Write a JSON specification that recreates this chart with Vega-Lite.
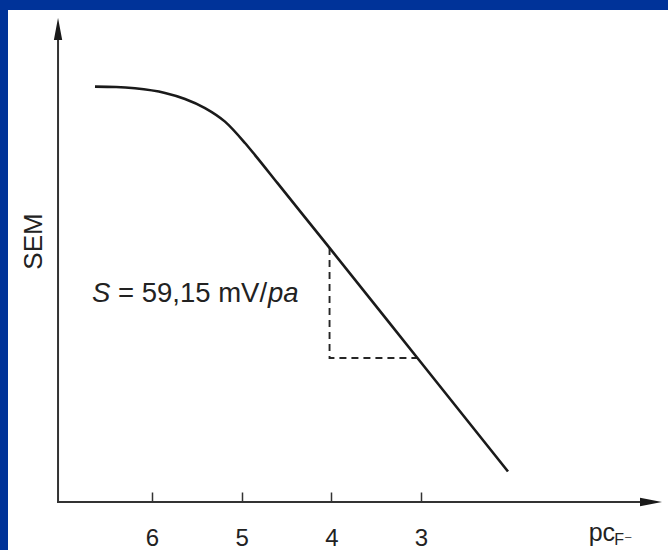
{
  "$schema": "https://vega.github.io/schema/vega-lite/v6.json",
  "width": 660,
  "height": 540,
  "autosize": {"type": "none"},
  "padding": {"left": 8, "top": 10, "right": 0, "bottom": 0},
  "background": "#003399",
  "config": {
    "view": {"fill": "white", "stroke": null},
    "font": "Liberation Sans"
  },
  "datasets": {
    "curve": [
      {"pcF": 6.636, "SEM": 223.3},
      {"pcF": 6.4, "SEM": 223.1},
      {"pcF": 6.19, "SEM": 222.4},
      {"pcF": 5.855, "SEM": 219.9},
      {"pcF": 5.632, "SEM": 216.7},
      {"pcF": 5.409, "SEM": 211.8},
      {"pcF": 5.186, "SEM": 204.5},
      {"pcF": 4.963, "SEM": 193.0},
      {"pcF": 4.851, "SEM": 186.5},
      {"pcF": 4.6, "SEM": 171.4},
      {"pcF": 4.02, "SEM": 136.6},
      {"pcF": 3.04, "SEM": 77.4},
      {"pcF": 2.03, "SEM": 16.4}
    ],
    "slope": [
      {"i": 1, "pcF": 4.02, "SEM": 136.6},
      {"i": 2, "pcF": 4.02, "SEM": 77.4},
      {"i": 3, "pcF": 3.04, "SEM": 77.4}
    ],
    "axisLines": [
      {"line": "abscissa", "pcF": 7.048, "pcF2": 0.45, "SEM": 0, "SEM2": 0},
      {"line": "ordinate", "pcF": 7.048, "pcF2": 7.048, "SEM": 0, "SEM2": 250}
    ],
    "arrows": [
      {"dir": "right", "pcF": 0.435, "SEM": 0},
      {"dir": "up", "pcF": 7.048, "SEM": 254.3}
    ],
    "notes": [
      {"role": "variable", "text": "S", "pcF": 6.669, "SEM": 107.5},
      {"role": "formula", "text": "= 59,15 mV/", "pcF": 6.379, "SEM": 107.5},
      {"role": "variable", "text": "pa", "pcF": 4.706, "SEM": 107.5},
      {"role": "axisname", "text": "pc", "pcF": 1.13, "SEM": -21.0},
      {"role": "ion", "text": "F⁻", "pcF": 0.845, "SEM": -23.3}
    ]
  },
  "encoding": {
    "x": {
      "field": "pcF",
      "type": "quantitative",
      "scale": {"domain": [0.2455, 7.606], "reverse": true, "nice": false, "zero": false},
      "axis": {
        "orient": "bottom",
        "offset": -58,
        "values": [6, 5, 4, 3],
        "domain": false,
        "grid": false,
        "ticks": true,
        "tickSize": 10,
        "tickColor": "#333333",
        "tickWidth": 1.5,
        "labelFont": "Liberation Sans",
        "labelFontSize": 24,
        "labelColor": "#222222",
        "labelBaseline": "alphabetic",
        "labelPadding": 43,
        "labelFlush": false,
        "title": null
      }
    },
    "y": {
      "field": "SEM",
      "type": "quantitative",
      "scale": {"domain": [-25.8, 264.5], "nice": false, "zero": false},
      "axis": {
        "orient": "left",
        "offset": -50,
        "domain": false,
        "grid": false,
        "ticks": false,
        "labels": false,
        "title": "SEM",
        "titleFont": "Liberation Sans",
        "titleFontSize": 26,
        "titleFontWeight": "normal",
        "titleColor": "#222222",
        "titleAngle": -90,
        "titleAlign": "center",
        "titleBaseline": "middle",
        "titleX": -25,
        "titleY": 231
      }
    }
  },
  "layer": [
    {
      "data": {"name": "axisLines"},
      "mark": {"type": "rule", "color": "#333333", "strokeWidth": 2, "strokeCap": "square"},
      "encoding": {
        "x2": {"field": "pcF2"},
        "y2": {"field": "SEM2"}
      }
    },
    {
      "data": {"name": "arrows"},
      "mark": {"type": "point", "filled": true, "color": "#1a1a1a", "opacity": 1, "size": 484},
      "encoding": {
        "shape": {
          "field": "dir",
          "type": "nominal",
          "scale": {"domain": ["right", "up"], "range": ["M-1,-0.38L1,0L-1,0.38Z", "M-0.38,1L0,-1L0.38,1Z"]},
          "legend": null
        }
      }
    },
    {
      "data": {"name": "slope"},
      "mark": {"type": "line", "color": "#262626", "strokeWidth": 1.9, "strokeDash": [7, 5]},
      "encoding": {"order": {"field": "i", "type": "quantitative"}}
    },
    {
      "data": {"name": "curve"},
      "mark": {"type": "line", "color": "#1a1a1a", "strokeWidth": 2.6, "interpolate": "monotone"},
      "encoding": {}
    },
    {
      "data": {"name": "notes"},
      "transform": [{"filter": "datum.role === 'variable'"}],
      "mark": {"type": "text", "align": "left", "baseline": "alphabetic", "fontSize": 27.5, "fontStyle": "italic", "color": "#222222", "font": "Liberation Sans"},
      "encoding": {"text": {"field": "text"}}
    },
    {
      "data": {"name": "notes"},
      "transform": [{"filter": "datum.role === 'formula'"}],
      "mark": {"type": "text", "align": "left", "baseline": "alphabetic", "fontSize": 27.5, "color": "#222222", "font": "Liberation Sans"},
      "encoding": {"text": {"field": "text"}}
    },
    {
      "data": {"name": "notes"},
      "transform": [{"filter": "datum.role === 'axisname'"}],
      "mark": {"type": "text", "align": "left", "baseline": "alphabetic", "fontSize": 25, "color": "#222222", "font": "Liberation Sans"},
      "encoding": {"text": {"field": "text"}}
    },
    {
      "data": {"name": "notes"},
      "transform": [{"filter": "datum.role === 'ion'"}],
      "mark": {"type": "text", "align": "left", "baseline": "alphabetic", "fontSize": 16, "color": "#222222", "font": "Liberation Sans, DejaVu Sans"},
      "encoding": {"text": {"field": "text"}}
    }
  ]
}
